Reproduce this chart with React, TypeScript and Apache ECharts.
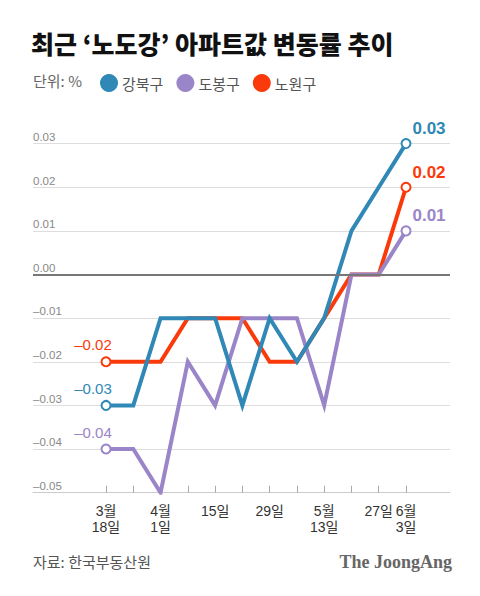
import React, { useEffect, useRef } from 'react';
import * as echarts from 'echarts';

const categories = ['3월 18일', '3월 25일', '4월 1일', '4월 8일', '4월 15일', '4월 22일', '4월 29일', '5월 6일', '5월 13일', '5월 20일', '5월 27일', '6월 3일'];
const tickLabels = ['3월\n18일', '', '4월\n1일', '', '15일', '', '29일', '', '5월\n13일', '', '27일', '6월\n3일'];
const gangbuk = [-0.03, -0.03, -0.01, -0.01, -0.01, -0.03, -0.01, -0.02, -0.01, 0.01, 0.02, 0.03];
const dobong = [-0.04, -0.04, -0.05, -0.02, -0.03, -0.01, -0.01, -0.01, -0.03, 0.0, 0.0, 0.01];
const nowon = [-0.02, -0.02, -0.02, -0.01, -0.01, -0.01, -0.02, -0.02, -0.01, 0.0, 0.0, 0.02];
const seriesNames = ['강북구', '도봉구', '노원구'];
const colors = ['#2f88b5', '#9b85c9', '#fb3a0c'];
const yMin = -0.05;
const yMax = 0.03;
const yStep = 0.01;

const KR = "'Noto Sans CJK KR', sans-serif";
const NUM = "'Liberation Sans', 'Noto Sans CJK KR', sans-serif";

const fmt = (v: number) => (v < -1e-9 ? '–' : '') + Math.abs(v).toFixed(2);

function makeSeries(name: string, values: number[], color: string, z: number, extra: any = {}) {
  const last = values.length - 1;
  return {
    type: 'line',
    name,
    z,
    symbol: 'circle',
    symbolSize: 9,
    lineStyle: { color, width: 4, join: 'miter' },
    itemStyle: { color },
    emphasis: { disabled: true },
    data: values.map((v, i) => {
      const item: any = { value: [i, v] };
      if (i === 0 || i === last) {
        item.itemStyle = { color: '#fff', borderColor: color, borderWidth: 2 };
        item.label =
          i === 0
            ? { show: true, position: 'top', distance: 4, offset: [-13, 0], formatter: fmt(v), color, fontSize: 15, fontFamily: NUM }
            : { show: true, position: 'top', distance: 2, offset: [23, 1], formatter: fmt(v), color, fontSize: 17, fontWeight: 'bold', fontFamily: NUM };
      } else {
        item.symbol = 'none';
      }
      return item;
    }),
    ...extra,
  };
}

export default function App() {
  const ref = useRef<HTMLDivElement>(null);
  useEffect(() => {
    if (!ref.current) return;
    const chart = echarts.init(ref.current, undefined, { renderer: 'svg' });
    const labelIdx = tickLabels.map((t, i) => (t ? i : -1)).filter((i) => i >= 0);
    const option: any = {
      animation: false,
      backgroundColor: '#fff',
      grid: { left: 33, right: 30, top: 143.6, bottom: 103.3 },
      legend: {
        data: seriesNames,
        left: 100,
        top: 74,
        padding: 0,
        icon: 'circle',
        itemWidth: 18,
        itemHeight: 18,
        itemGap: 13,
        selectedMode: false,
        itemStyle: { borderWidth: 0 },
        textStyle: { fontSize: 15, color: '#555', fontFamily: KR, padding: [0, 0, 0, -1] },
      },
      xAxis: {
        type: 'value',
        min: -2.677,
        max: 12.613,
        splitLine: { show: false },
        axisLine: { show: true, onZero: false, lineStyle: { color: '#ccc', width: 1 } },
        axisTick: {
          show: true,
          inside: true,
          length: 7,
          customValues: categories.map((_, i) => i),
          lineStyle: { color: '#aaa' },
        },
        axisLabel: {
          customValues: labelIdx,
          formatter: (v: number) => tickLabels[Math.round(v)] || '',
          margin: 10,
          fontSize: 14,
          lineHeight: 16,
          color: '#333',
          fontFamily: NUM,
        },
      },
      yAxis: {
        type: 'value',
        min: yMin,
        max: yMax,
        interval: yStep,
        axisLine: { show: false },
        axisTick: { show: false },
        splitLine: { show: true, lineStyle: { color: '#ddd', width: 1 } },
        axisLabel: {
          inside: true,
          margin: 0,
          verticalAlign: 'bottom',
          padding: [0, 0, 1, 0],
          fontSize: 11.5,
          color: '#888',
          fontFamily: NUM,
          formatter: (v: number) => fmt(v),
        },
      },
      graphic: [
        {
          type: 'text',
          left: 31,
          top: 30,
          style: { text: '최근 ‘노도강’ 아파트값 변동률 추이', fontSize: 25, fontWeight: 900, fill: '#111', fontFamily: KR },
        },
        {
          type: 'text',
          left: 33,
          top: 73,
          style: { text: '단위: %', fontSize: 15, fill: '#666', fontFamily: KR },
        },
        {
          type: 'text',
          left: 33,
          top: 554,
          style: { text: '자료: 한국부동산원', fontSize: 15, fill: '#555', fontFamily: KR },
        },
        {
          type: 'text',
          right: 28,
          top: 553,
          style: { text: 'The JoongAng', fontSize: 18, fontWeight: 'bold', fill: '#666', fontFamily: "'Liberation Serif', 'DejaVu Serif', serif" },
        },
      ],
      series: [
        makeSeries(seriesNames[2], nowon, colors[2], 2, {
          markLine: {
            silent: true,
            symbol: 'none',
            label: { show: false },
            lineStyle: { color: '#777', width: 2, type: 'solid' },
            data: [{ yAxis: 0 }],
          },
        }),
        makeSeries(seriesNames[1], dobong, colors[1], 3),
        makeSeries(seriesNames[0], gangbuk, colors[0], 4),
      ],
    };
    chart.setOption(option);
    return () => chart.dispose();
  }, []);
  return <div ref={ref} style={{ position: 'absolute', left: 0, top: 0, width: 480, height: 596 }} />;
}
